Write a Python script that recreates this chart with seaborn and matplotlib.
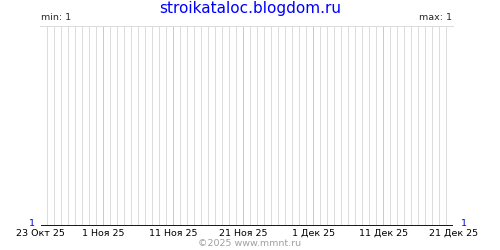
import numpy as np
import pandas as pd
import matplotlib
matplotlib.use("Agg")
import matplotlib.pyplot as plt
import matplotlib.dates as mdates
import seaborn as sns

sns.set_style("white")
plt.rcParams['font.family'] = ['DejaVu Sans']

title = "stroikataloc.blogdom.ru"
start_date = "2025-10-23"
end_date = "2025-12-21"
dates = pd.date_range(start_date, end_date, freq="D")
values = [1] * len(dates)
tick_dates = ["2025-10-23", "2025-11-01", "2025-11-11", "2025-11-21",
              "2025-12-01", "2025-12-11", "2025-12-21"]
tick_labels = ["23 Окт 25", "1 Ноя 25", "11 Ноя 25", "21 Ноя 25",
               "1 Дек 25", "11 Дек 25", "21 Дек 25"]
min_label = "min: 1"
max_label = "max: 1"
copyright_text = "©2025 www.mmnt.ru"

df = pd.DataFrame({"date": dates, "value": values})

fig = plt.figure(figsize=(5, 2.5), dpi=100)
ax = fig.add_axes([40.5/500, 1-225.5/250, 413/500, 200/250])

# daily grid lines
tick_set = set(tick_dates)
for d in dates:
    is_tick = d.strftime("%Y-%m-%d") in tick_set
    col = "#ffb4b4" if is_tick else "#dcdcdc"
    ax.axvline(d, color=col, lw=0.72, zorder=2 if is_tick else 1, antialiased=False)

sns.lineplot(data=df, x="date", y="value", ax=ax, color="#0000ee", lw=1.0,
             zorder=3, antialiased=False)

ax.set_xlim(dates[0], dates[-1])
ax.set_ylim(1, 2)
ax.set_xticks(pd.to_datetime(tick_dates))
ax.set_xticklabels(tick_labels, fontsize=6.8, color="#000000")
ax.tick_params(axis="x", length=0, pad=2.5)
ax.set_yticks([])
ax.set_xlabel("")
ax.set_ylabel("")
for s in ["left", "right", "bottom"]:
    ax.spines[s].set_visible(False)
ax.spines["top"].set_color("#dcdcdc")
ax.spines["top"].set_linewidth(0.72)
ax.spines["top"].set_antialiased(False)

fig.text(0.5, 1-8/250, title, color="#0000ff", fontsize=11, ha="center", va="center")
fig.text(41/500, 1-18/250, min_label, fontsize=6.8, ha="left", va="center")
fig.text(452/500, 1-18/250, max_label, fontsize=6.8, ha="right", va="center")
fig.text(32/500, 1-224/250, "1", color="#0000ee", fontsize=6.8, ha="center", va="center")
fig.text(464/500, 1-224/250, "1", color="#0000ee", fontsize=6.8, ha="center", va="center")
fig.text(0.5, 1-243/250, copyright_text, color="#a0a0a0", fontsize=6.8, ha="center", va="center")

fig.savefig("out.png", dpi=100)
